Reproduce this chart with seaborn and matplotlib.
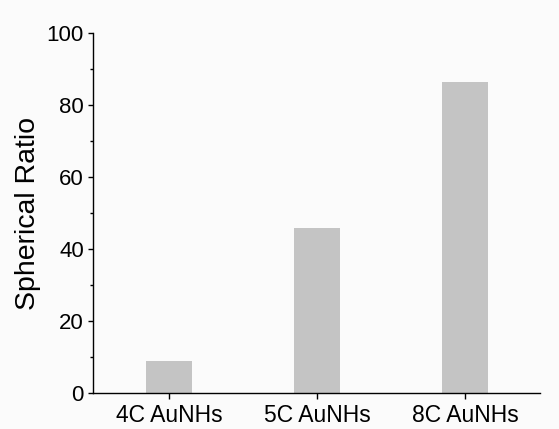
import matplotlib
matplotlib.use("Agg")
import matplotlib.pyplot as plt
import seaborn as sns
import pandas as pd
from matplotlib.ticker import MultipleLocator

# Values
samples = ["4C AuNHs", "5C AuNHs", "8C AuNHs"]
spherical_ratio = [8.8, 45.7, 86.4]
y_ticks = [0, 20, 40, 60, 80, 100]

df = pd.DataFrame({"sample": samples, "ratio": spherical_ratio})

sns.set_theme(style="ticks")
plt.rcParams["font.family"] = ["Liberation Sans", "DejaVu Sans"]

fig = plt.figure(figsize=(5.59, 4.29), dpi=100)
fig.patch.set_facecolor("#fbfbfb")
ax = fig.add_axes([0.1664, 0.0839, 0.7996, 0.8391])
ax.set_facecolor("#fbfbfb")

sns.barplot(data=df, x="sample", y="ratio", color="#c4c4c4", saturation=1,
            width=0.31, linewidth=0, ax=ax)

ax.set_xlim(-0.514, 2.507)
ax.set_ylim(0, 100)
ax.set_yticks(y_ticks)
ax.yaxis.set_minor_locator(MultipleLocator(10))

ax.set_xlabel("")
ax.set_ylabel("Spherical Ratio", fontsize=20.5, labelpad=4, color="black")

for side in ["top", "right"]:
    ax.spines[side].set_visible(False)
for side in ["left", "bottom"]:
    ax.spines[side].set_linewidth(1.0)
    ax.spines[side].set_color("black")

ax.tick_params(axis="y", which="major", direction="out", length=3.6,
               width=1.0, colors="black", labelsize=16, pad=3)
ax.tick_params(axis="y", which="minor", direction="out", length=2.2,
               width=1.0, colors="black")
ax.tick_params(axis="x", which="major", direction="out", length=4.5,
               width=1.0, colors="black", labelsize=16.5, pad=3.5)

fig.savefig("out.png", dpi=100, facecolor=fig.get_facecolor())
plt.close(fig)
